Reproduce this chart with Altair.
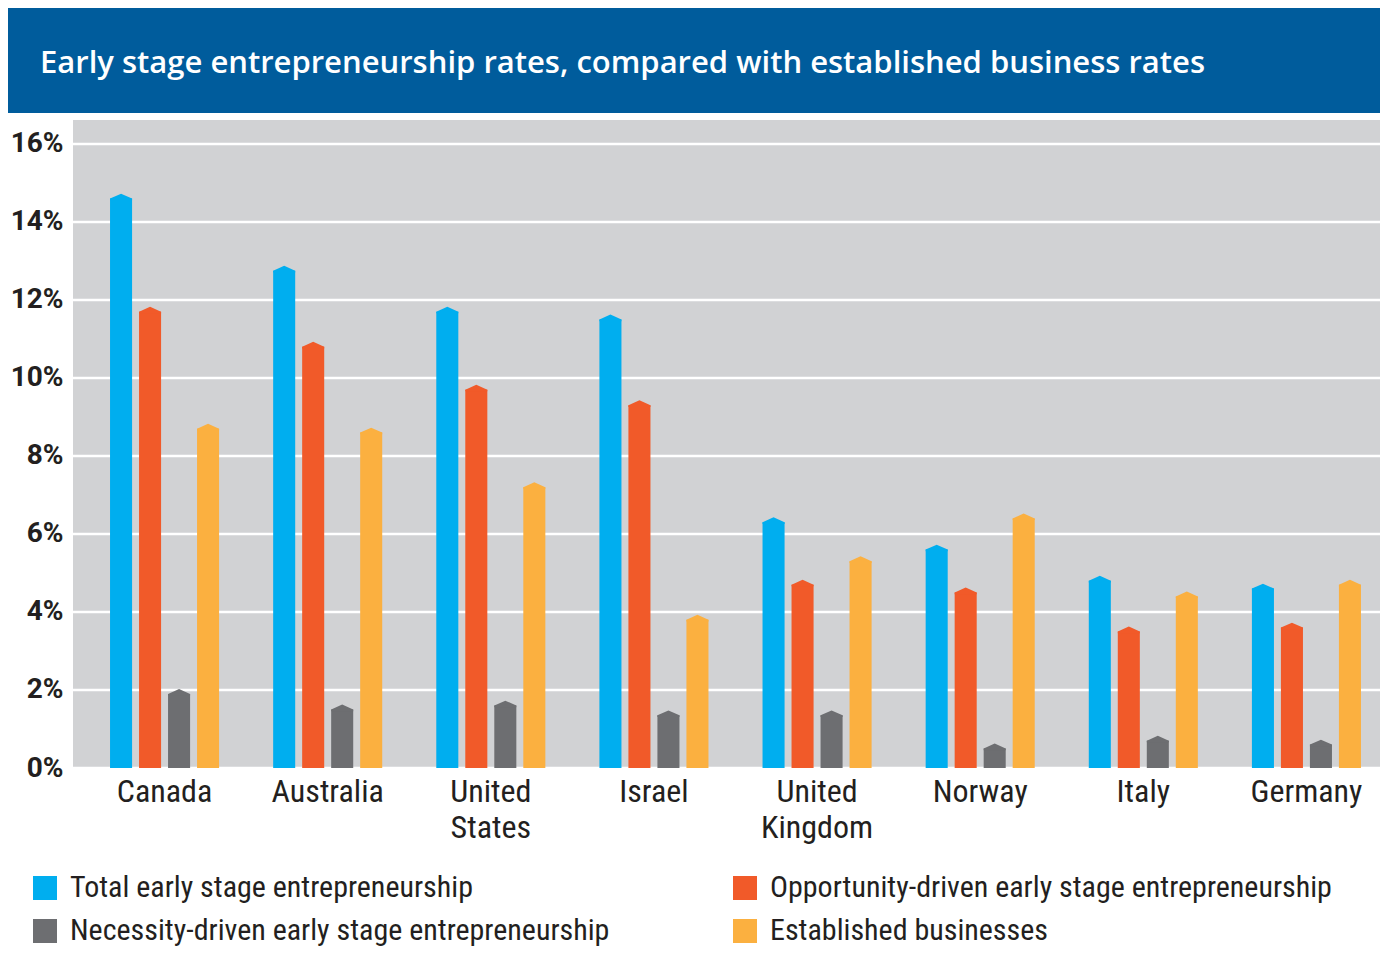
import altair as alt
import pandas as pd

countries = ["Canada", "Australia", "United States", "Israel", "United Kingdom", "Norway", "Italy", "Germany"]
series = [
    "Total early stage entrepreneurship",
    "Opportunity-driven early stage entrepreneurship",
    "Necessity-driven early stage entrepreneurship",
    "Established businesses",
]
total_early = [14.6, 12.75, 11.7, 11.5, 6.3, 5.6, 4.8, 4.6]
opportunity = [11.7, 10.8, 9.7, 9.3, 4.7, 4.5, 3.5, 3.6]
necessity = [1.9, 1.5, 1.6, 1.35, 1.35, 0.5, 0.7, 0.6]
established = [8.7, 8.6, 7.2, 3.8, 5.3, 6.4, 4.4, 4.7]
colors = ["#00aeef", "#f15a29", "#6d6e71", "#fbb040"]
y_ticks = [0, 2, 4, 6, 8, 10, 12, 14, 16]
title_text = "Early stage entrepreneurship rates, compared with established business rates"

# legend reads row by row in the reference: Total, Opportunity / Necessity, Established
legend_order = [series[0], series[2], series[1], series[3]]
legend_colors = [colors[0], colors[2], colors[1], colors[3]]

rows = []
for s, vals in zip(series, [total_early, opportunity, necessity, established]):
    for c, v in zip(countries, vals):
        rows.append({"country": c, "series": s, "value": v})
df = pd.DataFrame(rows)

FONT = "Liberation Sans Narrow, Roboto Condensed, DejaVu Sans Condensed, Roboto"
W, H = 1307, 648
y_scale = alt.Scale(domain=[0, 16.615], nice=False)

x_enc = alt.X("country:N", sort=countries,
              scale=alt.Scale(paddingInner=0, paddingOuter=0, range=[10, 1315]),
              axis=alt.Axis(title=None, labelAngle=0, domain=False, ticks=False, grid=False,
                            labelFont=FONT, labelFontSize=32, labelColor="#231f20",
                            labelPadding=8, labelLineHeight=36,
                            labelExpr="split(datum.label, ' ')"))
xo_enc = alt.XOffset("series:N", sort=series,
                     scale=alt.Scale(paddingInner=0.24, paddingOuter=0.932))
y_enc = alt.Y("value:Q", scale=y_scale,
              axis=alt.Axis(title=None, values=y_ticks, domain=False, ticks=False,
                            labelExpr="datum.value + '%'",
                            labelFont="Roboto", labelFontWeight="bold",
                            labelFontSize=28, labelColor="#231f20", labelPadding=10,
                            grid=False))
color_enc = alt.Color("series:N",
                      scale=alt.Scale(domain=legend_order, range=legend_colors),
                      legend=alt.Legend(title=None, orient="none", legendX=-43, legendY=753,
                                        columns=2, columnPadding=120, rowPadding=13,
                                        symbolType="square", symbolSize=576,
                                        symbolStrokeWidth=0, symbolOpacity=1,
                                        labelFont=FONT, labelFontSize=30,
                                        labelColor="#231f20", labelOffset=10,
                                        labelLimit=1000, padding=0))

grid = alt.Chart(pd.DataFrame({"value": y_ticks})).mark_rule(
    color="white", strokeWidth=2.5
).encode(y=y_enc, x=alt.value(0), x2=alt.value(W))

base = alt.Chart(df)
bars = base.mark_bar(opacity=1, clip=False).encode(x=x_enc, xOffset=xo_enc, y=y_enc, color=color_enc)
tips = base.mark_point(
    shape="M-1,0.15L-1,0L0,-0.45L1,0L1,0.15Z", size=484, filled=True,
    opacity=1, strokeWidth=0, clip=False
).encode(x=x_enc, xOffset=xo_enc, y=y_enc, color=color_enc)

banner = alt.Chart(pd.DataFrame({"t": [title_text]})).mark_rect(
    color="#005c9c", clip=False
).encode(x=alt.value(-65), x2=alt.value(W), y=alt.value(-112), y2=alt.value(-7))
title = alt.Chart(pd.DataFrame({"t": [title_text]})).mark_text(
    color="white", font="Open Sans", fontWeight=600, fontSize=31,
    align="left", baseline="alphabetic", clip=False
).encode(x=alt.value(-33), y=alt.value(-47), text="t:N")

chart = alt.layer(banner, title, grid, bars, tips).properties(
    width=W, height=H,
    autosize=alt.AutoSizeParams(type="none"),
    padding={"left": 65, "top": 112, "right": 0, "bottom": 185},
    background="white",
).configure_view(fill="#d1d2d4", stroke=None)

chart.save("out.html", embed_options={"renderer": "svg", "actions": False})
